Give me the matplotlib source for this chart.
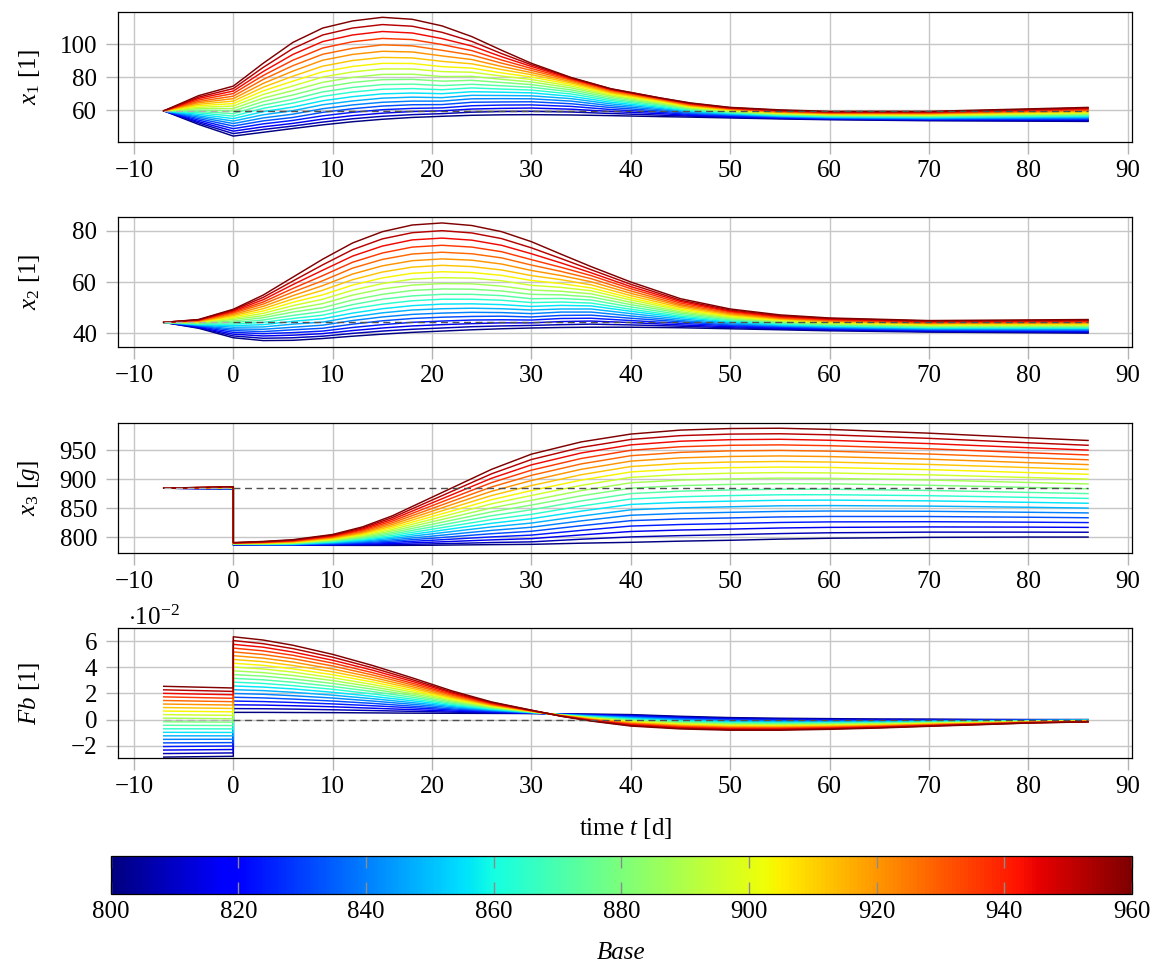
import numpy as np
import matplotlib
matplotlib.use("Agg")
import matplotlib.pyplot as plt
from matplotlib.colors import Normalize
from matplotlib.cm import ScalarMappable

plt.rcParams['font.family'] = ['Liberation Serif', 'DejaVu Serif']
plt.rcParams['mathtext.fontset'] = 'custom'
plt.rcParams['mathtext.rm'] = 'Liberation Serif'
plt.rcParams['mathtext.it'] = 'Liberation Serif:italic'
plt.rcParams['mathtext.bf'] = 'Liberation Serif:bold'

# ---------------- data ----------------
base = [800, 808, 816, 824, 832, 840, 848, 856, 864, 872, 880,
        888, 896, 904, 912, 920, 928, 936, 944, 952, 960]

x_ticks = [-10, 0, 10, 20, 30, 40, 50, 60, 70, 80, 90]
cbar_ticks = [800, 820, 840, 860, 880, 900, 920, 940, 960]
ref_t = [-7, 0, 86]

# x1: one row per time, 21 values (Base 800 ... 960)
t_x1 = [-7, -3.5, 0, 3, 6, 9, 12, 15, 18, 21, 24, 27, 30, 34, 38, 43, 46, 50, 55, 60, 70, 86]
x1_rows = [
    [59.5, 59.5, 59.5, 59.5, 59.5, 59.5, 59.5, 59.5, 59.5, 59.5, 59.5, 59.5, 59.5, 59.5, 59.5, 59.5, 59.5, 59.5, 59.5, 59.5, 59.5],
    [51.3, 52.2, 53.0, 53.9, 54.8, 55.7, 56.5, 57.4, 58.3, 59.1, 60.0, 60.9, 61.7, 62.6, 63.5, 64.4, 65.2, 66.1, 67.0, 67.8, 68.7],
    [44.2, 45.7, 47.2, 48.7, 50.3, 51.8, 53.3, 54.8, 56.3, 57.8, 59.4, 60.9, 62.4, 63.9, 65.4, 66.9, 68.4, 70.0, 71.5, 73.0, 74.5],
    [46.5, 48.2, 49.8, 51.6, 53.4, 55.2, 57.1, 59.0, 61.0, 63.0, 65.1, 67.2, 69.4, 71.6, 73.8, 76.1, 78.5, 80.9, 83.3, 85.8, 88.3],
    [48.8, 50.3, 51.9, 53.7, 55.5, 57.5, 59.6, 61.8, 64.2, 66.5, 69.1, 71.8, 74.6, 77.5, 80.5, 83.6, 86.9, 90.2, 93.7, 97.3, 101.0],
    [51.0, 52.7, 54.5, 56.5, 58.6, 60.8, 63.2, 65.6, 68.3, 71.0, 73.8, 76.8, 80.0, 83.2, 86.6, 90.2, 93.8, 97.6, 101.5, 105.5, 109.7],
    [52.9, 54.7, 56.6, 58.6, 60.8, 63.1, 65.5, 68.1, 70.9, 73.7, 76.7, 79.8, 83.1, 86.4, 90.0, 93.7, 97.4, 101.4, 105.5, 109.7, 114.0],
    [54.4, 56.2, 58.1, 60.2, 62.4, 64.7, 67.2, 69.8, 72.6, 75.4, 78.4, 81.6, 84.9, 88.3, 91.9, 95.6, 99.5, 103.4, 107.6, 111.8, 116.2],
    [55.5, 57.2, 59.1, 61.0, 63.2, 65.4, 67.8, 70.3, 73.0, 75.7, 78.6, 81.7, 84.9, 88.2, 91.6, 95.2, 98.9, 102.7, 106.7, 110.8, 115.0],
    [56.2, 57.8, 59.5, 61.3, 63.3, 65.4, 67.5, 69.9, 72.3, 74.8, 77.5, 80.3, 83.3, 86.3, 89.5, 92.8, 96.2, 99.7, 103.3, 107.1, 111.0],
    [56.8, 58.7, 60.6, 62.6, 64.7, 66.8, 68.9, 71.1, 73.4, 75.6, 78.0, 80.4, 82.9, 85.4, 88.0, 90.6, 93.3, 96.0, 98.8, 101.6, 104.5],
    [57.1, 59.1, 61.0, 63.0, 64.9, 66.9, 68.8, 70.8, 72.7, 74.7, 76.7, 78.6, 80.6, 82.5, 84.5, 86.4, 88.4, 90.3, 92.3, 94.2, 96.2],
    [57.2, 59.2, 61.2, 63.1, 65.0, 66.8, 68.6, 70.4, 72.1, 73.8, 75.4, 77.0, 78.5, 80.0, 81.4, 82.7, 84.0, 85.2, 86.4, 87.4, 88.3],
    [57.0, 58.8, 60.5, 62.2, 63.8, 65.4, 66.9, 68.3, 69.7, 71.0, 72.2, 73.4, 74.5, 75.5, 76.4, 77.2, 78.0, 78.6, 79.1, 79.5, 79.7],
    [56.6, 57.9, 59.1, 60.3, 61.5, 62.6, 63.7, 64.7, 65.7, 66.6, 67.5, 68.4, 69.1, 69.9, 70.5, 71.1, 71.7, 72.1, 72.5, 72.8, 72.9],
    [56.0, 56.9, 57.8, 58.6, 59.4, 60.2, 60.9, 61.6, 62.3, 63.0, 63.6, 64.1, 64.7, 65.2, 65.7, 66.1, 66.4, 66.8, 67.0, 67.2, 67.3],
    [55.7, 56.3, 56.8, 57.3, 57.9, 58.4, 58.9, 59.4, 59.8, 60.3, 60.7, 61.2, 61.6, 62.0, 62.4, 62.8, 63.1, 63.5, 63.8, 64.1, 64.3],
    [55.2, 55.6, 56.0, 56.4, 56.8, 57.2, 57.6, 57.9, 58.3, 58.6, 58.9, 59.3, 59.6, 59.9, 60.2, 60.5, 60.7, 61.0, 61.2, 61.4, 61.6],
    [54.6, 54.9, 55.2, 55.4, 55.7, 56.0, 56.3, 56.5, 56.8, 57.1, 57.4, 57.6, 57.9, 58.2, 58.5, 58.7, 59.0, 59.3, 59.6, 59.8, 60.1],
    [54.1, 54.4, 54.6, 54.9, 55.1, 55.4, 55.6, 55.9, 56.1, 56.4, 56.7, 56.9, 57.2, 57.4, 57.7, 57.9, 58.2, 58.4, 58.7, 58.9, 59.2],
    [53.5, 53.8, 54.1, 54.4, 54.6, 54.9, 55.2, 55.5, 55.8, 56.1, 56.4, 56.6, 56.9, 57.2, 57.5, 57.8, 58.1, 58.3, 58.6, 58.9, 59.2],
    [53.1, 53.5, 54.0, 54.4, 54.8, 55.2, 55.7, 56.1, 56.5, 56.9, 57.4, 57.8, 58.2, 58.6, 59.1, 59.5, 59.9, 60.3, 60.8, 61.2, 61.6],
]
x1_ref = 59.5

t_x2 = [-7, -3.5, 0, 3, 6, 9, 12, 15, 18, 21, 24, 27, 30, 33, 36, 40, 45, 50, 55, 60, 70, 86]
x2_rows = [
    [44.3, 44.3, 44.3, 44.3, 44.3, 44.3, 44.3, 44.3, 44.3, 44.3, 44.3, 44.3, 44.3, 44.3, 44.3, 44.3, 44.3, 44.3, 44.3, 44.3, 44.3],
    [42.0, 42.2, 42.4, 42.7, 42.9, 43.1, 43.3, 43.4, 43.6, 43.8, 44.0, 44.2, 44.3, 44.5, 44.6, 44.8, 44.9, 45.1, 45.2, 45.3, 45.4],
    [38.3, 39.0, 39.7, 40.4, 41.1, 41.7, 42.4, 43.0, 43.6, 44.2, 44.8, 45.4, 45.9, 46.4, 46.9, 47.4, 47.9, 48.3, 48.7, 49.1, 49.4],
    [37.2, 38.1, 39.0, 39.9, 40.7, 41.6, 42.5, 43.4, 44.3, 45.2, 46.1, 46.9, 47.8, 48.7, 49.6, 50.5, 51.4, 52.2, 53.1, 54.0, 54.9],
    [37.3, 38.3, 39.3, 40.3, 41.4, 42.4, 43.6, 44.7, 45.8, 47.0, 48.3, 49.5, 50.8, 52.1, 53.4, 54.7, 56.1, 57.5, 59.0, 60.4, 61.9],
    [38.0, 38.9, 39.9, 40.9, 42.0, 43.2, 44.4, 45.7, 47.1, 48.5, 50.0, 51.6, 53.3, 55.0, 56.8, 58.6, 60.5, 62.5, 64.6, 66.7, 68.9],
    [38.9, 40.0, 41.1, 42.3, 43.6, 45.0, 46.4, 47.9, 49.6, 51.2, 53.0, 54.9, 56.8, 58.8, 60.9, 63.1, 65.4, 67.7, 70.1, 72.6, 75.2],
    [39.7, 40.9, 42.1, 43.4, 44.9, 46.4, 48.0, 49.6, 51.4, 53.3, 55.2, 57.3, 59.4, 61.6, 63.9, 66.3, 68.8, 71.3, 74.0, 76.8, 79.6],
    [40.4, 41.6, 42.9, 44.3, 45.8, 47.4, 49.1, 50.8, 52.7, 54.6, 56.7, 58.8, 61.1, 63.4, 65.8, 68.3, 70.9, 73.6, 76.4, 79.2, 82.2],
    [40.9, 42.1, 43.4, 44.8, 46.3, 47.9, 49.6, 51.4, 53.3, 55.2, 57.3, 59.4, 61.7, 64.0, 66.5, 69.0, 71.6, 74.3, 77.1, 80.0, 83.0],
    [41.4, 42.6, 43.8, 45.2, 46.6, 48.2, 49.8, 51.5, 53.3, 55.2, 57.2, 59.3, 61.5, 63.7, 66.0, 68.5, 71.0, 73.6, 76.3, 79.1, 82.0],
    [41.8, 42.9, 44.1, 45.3, 46.7, 48.1, 49.6, 51.2, 52.9, 54.7, 56.5, 58.4, 60.5, 62.6, 64.7, 67.0, 69.4, 71.8, 74.3, 76.9, 79.6],
    [42.1, 43.1, 44.1, 45.2, 46.4, 47.7, 49.1, 50.5, 52.0, 53.5, 55.2, 56.9, 58.7, 60.6, 62.5, 64.5, 66.6, 68.7, 71.0, 73.3, 75.7],
    [42.3, 43.4, 44.6, 45.8, 47.0, 48.3, 49.5, 50.9, 52.2, 53.6, 55.0, 56.4, 57.9, 59.4, 60.9, 62.5, 64.1, 65.7, 67.4, 69.1, 70.8],
    [42.4, 43.6, 44.8, 45.9, 47.1, 48.3, 49.5, 50.7, 51.8, 53.0, 54.2, 55.4, 56.6, 57.7, 58.9, 60.1, 61.3, 62.5, 63.6, 64.8, 66.0],
    [42.4, 43.3, 44.2, 45.0, 45.9, 46.8, 47.7, 48.6, 49.4, 50.3, 51.2, 52.1, 53.0, 53.8, 54.7, 55.6, 56.5, 57.4, 58.2, 59.1, 60.0],
    [42.2, 42.8, 43.3, 43.9, 44.5, 45.0, 45.6, 46.2, 46.7, 47.3, 47.9, 48.4, 49.0, 49.5, 50.1, 50.7, 51.2, 51.8, 52.4, 52.9, 53.5],
    [41.8, 42.2, 42.6, 43.0, 43.3, 43.7, 44.1, 44.5, 44.9, 45.3, 45.7, 46.0, 46.4, 46.8, 47.2, 47.6, 48.0, 48.4, 48.7, 49.1, 49.5],
    [41.4, 41.7, 42.0, 42.3, 42.6, 42.9, 43.1, 43.4, 43.7, 44.0, 44.3, 44.6, 44.9, 45.2, 45.5, 45.8, 46.0, 46.3, 46.6, 46.9, 47.2],
    [41.0, 41.3, 41.5, 41.8, 42.0, 42.3, 42.5, 42.8, 43.0, 43.3, 43.5, 43.8, 44.0, 44.3, 44.5, 44.8, 45.0, 45.3, 45.5, 45.8, 46.0],
    [40.5, 40.7, 41.0, 41.2, 41.4, 41.6, 41.9, 42.1, 42.3, 42.5, 42.8, 43.0, 43.2, 43.4, 43.7, 43.9, 44.1, 44.3, 44.6, 44.8, 45.0],
    [40.1, 40.4, 40.6, 40.9, 41.2, 41.4, 41.7, 42.0, 42.2, 42.5, 42.8, 43.0, 43.3, 43.5, 43.8, 44.1, 44.3, 44.6, 44.9, 45.1, 45.4],
]
x2_ref = 44.3

# t = 0 appears twice: value just before and just after the step
t_x3 = [-7, 0, 0, 3, 6, 10, 13, 16, 20, 23, 26, 30, 35, 40, 45, 50, 55, 60, 70, 80, 86]
x3_rows = [
    [884.5, 884.5, 884.5, 884.5, 884.5, 884.5, 884.5, 884.5, 884.5, 884.5, 884.5, 884.5, 884.5, 884.5, 884.5, 884.5, 884.5, 884.5, 884.5, 884.5, 884.5],
    [883.0, 883.2, 883.4, 883.6, 883.8, 884.0, 884.2, 884.4, 884.6, 884.8, 885.0, 885.2, 885.4, 885.6, 885.8, 886.0, 886.2, 886.4, 886.6, 886.8, 887.0],
    [787.0, 787.2, 787.4, 787.6, 787.8, 788.0, 788.2, 788.4, 788.6, 788.8, 789.0, 789.2, 789.4, 789.6, 789.8, 790.0, 790.2, 790.4, 790.6, 790.8, 791.0],
    [786.8, 786.9, 787.0, 787.2, 787.4, 787.6, 787.8, 788.1, 788.4, 788.7, 789.0, 789.3, 789.7, 790.1, 790.4, 790.8, 791.2, 791.7, 792.1, 792.5, 793.0],
    [786.5, 786.6, 786.8, 787.1, 787.4, 787.7, 788.1, 788.5, 788.9, 789.4, 789.9, 790.4, 790.9, 791.5, 792.1, 792.7, 793.3, 794.0, 794.6, 795.3, 796.0],
    [786.3, 786.8, 787.5, 788.2, 789.0, 789.8, 790.7, 791.6, 792.5, 793.5, 794.4, 795.4, 796.4, 797.5, 798.5, 799.5, 800.6, 801.7, 802.8, 803.9, 805.0],
    [786.2, 787.1, 788.2, 789.5, 790.8, 792.2, 793.7, 795.2, 796.8, 798.4, 800.0, 801.7, 803.4, 805.2, 806.9, 808.7, 810.5, 812.4, 814.2, 816.1, 818.0],
    [786.2, 787.6, 789.4, 791.4, 793.6, 795.8, 798.2, 800.6, 803.1, 805.7, 808.3, 811.0, 813.7, 816.5, 819.3, 822.2, 825.1, 828.0, 831.0, 834.0, 837.0],
    [786.5, 788.8, 791.7, 795.0, 798.5, 802.1, 806.0, 809.9, 814.0, 818.2, 822.4, 826.8, 831.2, 835.7, 840.3, 844.9, 849.6, 854.4, 859.2, 864.1, 869.0],
    [787.0, 789.9, 793.7, 797.9, 802.4, 807.1, 812.0, 817.1, 822.3, 827.7, 833.1, 838.7, 844.4, 850.2, 856.1, 862.1, 868.1, 874.2, 880.4, 886.7, 893.0],
    [787.5, 791.1, 795.7, 800.8, 806.3, 812.0, 818.0, 824.2, 830.6, 837.2, 843.9, 850.7, 857.7, 864.7, 871.9, 879.2, 886.6, 894.1, 901.6, 909.3, 917.0],
    [788.0, 792.3, 797.8, 803.9, 810.5, 817.4, 824.6, 832.0, 839.6, 847.5, 855.5, 863.6, 872.0, 880.4, 889.0, 897.7, 906.6, 915.5, 924.6, 933.8, 943.0],
    [790.0, 796.8, 804.2, 812.0, 820.0, 828.3, 836.6, 845.1, 853.8, 862.5, 871.4, 880.3, 889.3, 898.4, 907.6, 916.9, 926.2, 935.5, 945.0, 954.5, 964.0],
    [791.5, 800.8, 810.1, 819.4, 828.7, 838.0, 847.3, 856.6, 865.9, 875.2, 884.5, 893.8, 903.1, 912.4, 921.7, 931.0, 940.3, 949.6, 958.9, 968.2, 977.5],
    [793.5, 803.0, 812.6, 822.1, 831.7, 841.2, 850.7, 860.3, 869.8, 879.4, 888.9, 898.4, 908.0, 917.5, 927.1, 936.6, 946.1, 955.7, 965.2, 974.8, 984.3],
    [795.0, 804.6, 814.2, 823.8, 833.4, 843.0, 852.6, 862.2, 871.8, 881.4, 891.0, 900.6, 910.2, 919.8, 929.4, 939.0, 948.6, 958.2, 967.8, 977.4, 987.0],
    [797.0, 806.5, 816.1, 825.6, 835.1, 844.6, 854.2, 863.7, 873.2, 882.7, 892.3, 901.8, 911.3, 920.8, 930.4, 939.9, 949.4, 958.9, 968.5, 978.0, 987.5],
    [798.5, 807.9, 817.2, 826.6, 835.9, 845.3, 854.6, 864.0, 873.3, 882.7, 892.0, 901.4, 910.7, 920.1, 929.4, 938.8, 948.1, 957.5, 966.8, 976.2, 985.5],
    [800.0, 809.0, 817.9, 826.9, 835.8, 844.8, 853.7, 862.7, 871.6, 880.6, 889.5, 898.5, 907.4, 916.4, 925.3, 934.3, 943.2, 952.2, 961.1, 970.1, 979.0],
    [800.5, 809.0, 817.6, 826.1, 834.6, 843.1, 851.7, 860.2, 868.7, 877.2, 885.8, 894.3, 902.8, 911.3, 919.9, 928.4, 936.9, 945.4, 954.0, 962.5, 971.0],
    [800.5, 808.8, 817.1, 825.4, 833.7, 842.0, 850.3, 858.6, 866.9, 875.2, 883.5, 891.8, 900.1, 908.4, 916.7, 925.0, 933.3, 941.6, 949.9, 958.2, 966.5],
]
x3_ref = 885.0

# Fb values in units of 1e-2
t_fb = [-7, 0, 0, 3, 6, 10, 14, 18, 22, 26, 30, 33, 36, 40, 45, 50, 55, 60, 65, 70, 75, 80, 86]
fb_rows = [
    [-2.88, -2.61, -2.34, -2.07, -1.79, -1.52, -1.25, -0.98, -0.71, -0.44, -0.17, 0.11, 0.38, 0.65, 0.92, 1.19, 1.46, 1.74, 2.01, 2.28, 2.55],
    [-2.82, -2.56, -2.30, -2.03, -1.77, -1.51, -1.25, -0.99, -0.72, -0.46, -0.20, 0.06, 0.32, 0.59, 0.85, 1.11, 1.37, 1.63, 1.90, 2.16, 2.42],
    [0.55, 0.84, 1.13, 1.42, 1.71, 2.00, 2.29, 2.58, 2.87, 3.16, 3.45, 3.74, 4.03, 4.32, 4.61, 4.90, 5.19, 5.48, 5.77, 6.06, 6.35],
    [0.55, 0.83, 1.11, 1.38, 1.66, 1.94, 2.22, 2.49, 2.77, 3.05, 3.33, 3.60, 3.88, 4.16, 4.44, 4.71, 4.99, 5.27, 5.55, 5.82, 6.10],
    [0.54, 0.80, 1.06, 1.31, 1.57, 1.83, 2.09, 2.35, 2.60, 2.86, 3.12, 3.38, 3.64, 3.89, 4.15, 4.41, 4.67, 4.93, 5.18, 5.44, 5.70],
    [0.53, 0.75, 0.98, 1.20, 1.42, 1.65, 1.87, 2.09, 2.32, 2.54, 2.77, 2.99, 3.21, 3.44, 3.66, 3.88, 4.11, 4.33, 4.55, 4.78, 5.00],
    [0.51, 0.69, 0.87, 1.06, 1.24, 1.42, 1.60, 1.78, 1.97, 2.15, 2.33, 2.51, 2.69, 2.88, 3.06, 3.24, 3.42, 3.60, 3.79, 3.97, 4.15],
    [0.49, 0.63, 0.76, 0.90, 1.03, 1.17, 1.30, 1.44, 1.57, 1.71, 1.85, 1.98, 2.12, 2.25, 2.39, 2.52, 2.66, 2.79, 2.93, 3.06, 3.20],
    [0.48, 0.57, 0.65, 0.74, 0.82, 0.91, 1.00, 1.08, 1.17, 1.25, 1.34, 1.43, 1.51, 1.60, 1.68, 1.77, 1.86, 1.94, 2.03, 2.11, 2.20],
    [0.47, 0.51, 0.56, 0.60, 0.65, 0.69, 0.73, 0.78, 0.82, 0.87, 0.91, 0.95, 1.00, 1.04, 1.09, 1.13, 1.17, 1.22, 1.26, 1.31, 1.35],
    [0.46, 0.47, 0.49, 0.50, 0.51, 0.53, 0.54, 0.55, 0.56, 0.58, 0.59, 0.60, 0.62, 0.63, 0.64, 0.66, 0.67, 0.68, 0.69, 0.71, 0.72],
    [0.44, 0.43, 0.42, 0.41, 0.40, 0.39, 0.38, 0.37, 0.36, 0.35, 0.35, 0.34, 0.33, 0.32, 0.31, 0.30, 0.29, 0.28, 0.27, 0.26, 0.25],
    [0.42, 0.39, 0.37, 0.34, 0.31, 0.29, 0.26, 0.23, 0.20, 0.18, 0.15, 0.12, 0.10, 0.07, 0.04, 0.02, -0.01, -0.04, -0.07, -0.09, -0.12],
    [0.38, 0.34, 0.29, 0.25, 0.20, 0.16, 0.12, 0.07, 0.03, -0.02, -0.06, -0.10, -0.15, -0.19, -0.24, -0.28, -0.32, -0.37, -0.41, -0.46, -0.50],
    [0.25, 0.20, 0.15, 0.10, 0.06, 0.01, -0.04, -0.09, -0.14, -0.19, -0.24, -0.28, -0.33, -0.38, -0.43, -0.48, -0.53, -0.57, -0.62, -0.67, -0.72],
    [0.15, 0.10, 0.05, 0.00, -0.04, -0.09, -0.14, -0.19, -0.24, -0.29, -0.34, -0.38, -0.43, -0.48, -0.53, -0.58, -0.63, -0.67, -0.72, -0.77, -0.82],
    [0.10, 0.05, 0.01, -0.04, -0.08, -0.13, -0.18, -0.22, -0.27, -0.31, -0.36, -0.41, -0.45, -0.50, -0.54, -0.59, -0.64, -0.68, -0.73, -0.77, -0.82],
    [0.07, 0.03, -0.01, -0.05, -0.09, -0.14, -0.18, -0.22, -0.26, -0.30, -0.34, -0.38, -0.42, -0.46, -0.50, -0.55, -0.59, -0.63, -0.67, -0.71, -0.75],
    [0.04, 0.01, -0.03, -0.06, -0.10, -0.13, -0.17, -0.20, -0.24, -0.27, -0.31, -0.34, -0.37, -0.41, -0.44, -0.48, -0.51, -0.55, -0.58, -0.62, -0.65],
    [0.03, 0.00, -0.03, -0.05, -0.08, -0.11, -0.14, -0.16, -0.19, -0.22, -0.25, -0.27, -0.30, -0.33, -0.36, -0.38, -0.41, -0.44, -0.47, -0.49, -0.52],
    [0.01, -0.01, -0.03, -0.05, -0.07, -0.09, -0.11, -0.13, -0.15, -0.17, -0.20, -0.22, -0.24, -0.26, -0.28, -0.30, -0.32, -0.34, -0.36, -0.38, -0.40],
    [0.00, -0.01, -0.03, -0.04, -0.05, -0.07, -0.08, -0.09, -0.11, -0.12, -0.14, -0.15, -0.16, -0.18, -0.19, -0.20, -0.22, -0.23, -0.24, -0.26, -0.27],
    [0.00, -0.01, -0.02, -0.03, -0.04, -0.05, -0.05, -0.06, -0.07, -0.08, -0.09, -0.10, -0.11, -0.12, -0.13, -0.14, -0.14, -0.15, -0.16, -0.17, -0.18],
]
fb_ref = 0.0

# ---------------- figure ----------------
W, H = 1156, 963
fig = plt.figure(figsize=(W / 100, H / 100), dpi=100)
cmap = plt.get_cmap('jet')
norm = Normalize(vmin=800, vmax=960)

panels = [
    dict(t=t_x1, rows=x1_rows, ref=x1_ref, box=(118.3, 11.7, 1132.3, 141.7),
         ylim=(40.8, 119.6), yticks=[60, 80, 100], ylabel=r'$x_1$ [1]'),
    dict(t=t_x2, rows=x2_rows, ref=x2_ref, box=(118.3, 217.3, 1132.3, 347.0),
         ylim=(34.7, 85.2), yticks=[40, 60, 80], ylabel=r'$x_2$ [1]'),
    dict(t=t_x3, rows=x3_rows, ref=x3_ref, box=(118.3, 422.7, 1132.3, 552.5),
         ylim=(774, 997), yticks=[800, 850, 900, 950], ylabel=r'$x_3$ [$g$]'),
    dict(t=t_fb, rows=fb_rows, ref=fb_ref, box=(118.3, 628.3, 1132.3, 758.0),
         ylim=(-2.95, 7.0), yticks=[-2, 0, 2, 4, 6], ylabel=r'$Fb$ [1]'),
]

FS = 18
tick_gray = '#b4b4b4'
axes = []
for p in panels:
    l, t, r, b = p['box']
    ax = fig.add_axes([l / W, 1 - b / H, (r - l) / W, (b - t) / H])
    axes.append(ax)
    vals = np.array(p['rows']).T
    for k, bv in enumerate(base):
        ax.plot(p['t'], vals[k], color=cmap(norm(bv)), lw=1.05, zorder=2,
                solid_joinstyle='round')
    ax.plot(ref_t[:2], [p['ref'], p['ref']], color='#b0b0b0', lw=1.0,
            linestyle=(0, (5, 3.3)), zorder=3)
    ax.plot(ref_t[1:], [p['ref'], p['ref']], color='#505050', lw=1.0,
            linestyle=(0, (5, 3.3)), zorder=3)
    ax.set_xlim(-11.57, 90.45)
    ax.set_ylim(*p['ylim'])
    ax.set_xticks(x_ticks)
    ax.set_yticks(p['yticks'])
    ax.grid(True, color='#c6c6c6', lw=1.0)
    ax.set_axisbelow(True)
    ax.tick_params(axis='both', direction='out', length=8.3, width=1.0,
                   color=tick_gray, labelsize=FS)
    ax.tick_params(axis='x', pad=5)
    ax.tick_params(axis='y', pad=7)
    for s in ax.spines.values():
        s.set_linewidth(0.9)
        s.set_color('black')
    ax.set_ylabel(p['ylabel'], fontsize=FS)
    ax.yaxis.set_label_coords(-0.075, 0.5)

ax4 = axes[3]
ax4.text(0.0096, 1.022, r'$\cdot 10^{-2}$', transform=ax4.transAxes,
         ha='left', va='baseline', fontsize=FS)
ax4.set_xlabel(r'time $t$ [d]', fontsize=FS)
ax4.xaxis.set_label_coords(0.5, -0.45)

# colorbar
cax = fig.add_axes([110.6 / W, 1 - 894 / H, (1132.0 - 110.6) / W, 38 / H])
sm = ScalarMappable(norm=norm, cmap=cmap)
cb = fig.colorbar(sm, cax=cax, orientation='horizontal', ticks=cbar_ticks)
cb.ax.tick_params(direction='in', length=8.5, width=1.0, color='#8c8c8c',
                  top=True, bottom=True, labeltop=False, labelsize=FS, pad=5)
cb.outline.set_linewidth(0.9)
cb.set_label('Base', fontsize=FS, style='italic')
cb.ax.xaxis.set_label_coords(0.5, -1.25)

fig.savefig('out.png', dpi=100)
